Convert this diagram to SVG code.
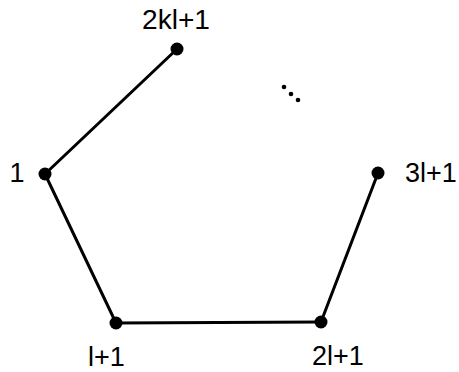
<svg xmlns="http://www.w3.org/2000/svg" width="459" height="372" viewBox="0 0 459 372">
<style>
.e{stroke:#000;stroke-width:3;fill:none;stroke-linecap:round}
.n{fill:#000}
.t{font-family:"Liberation Sans",Arial,sans-serif;font-size:27px;fill:#000}
</style>
<rect width="459" height="372" fill="#fff"/>
<g id="edges">
<line class="e" x1="177" y1="49" x2="45" y2="174"/>
<line class="e" x1="45" y1="174" x2="116" y2="323"/>
<line class="e" x1="116" y1="323" x2="321" y2="322"/>
<line class="e" x1="321" y1="322" x2="378" y2="173"/>
</g>
<g id="n1"><circle class="n" cx="177" cy="49" r="6.5"/><text class="t" x="142" y="29" textLength="68" lengthAdjust="spacingAndGlyphs">2kl+1</text></g>
<g id="n2"><circle class="n" cx="45" cy="174" r="6.5"/><text class="t" x="17" y="182" text-anchor="middle">1</text></g>
<g id="n3"><circle class="n" cx="116" cy="323" r="6.5"/><text class="t" x="88" y="366">l+1</text></g>
<g id="n4"><circle class="n" cx="321" cy="322" r="6.5"/><text class="t" x="312" y="365">2l+1</text></g>
<g id="n5"><circle class="n" cx="378" cy="173" r="6.5"/><text class="t" x="405" y="182">3l+1</text></g>
<g id="dots">
<circle class="n" cx="284" cy="87" r="2.3"/>
<circle class="n" cx="291" cy="94" r="2.3"/>
<circle class="n" cx="298" cy="100" r="2.3"/>
</g>
</svg>
